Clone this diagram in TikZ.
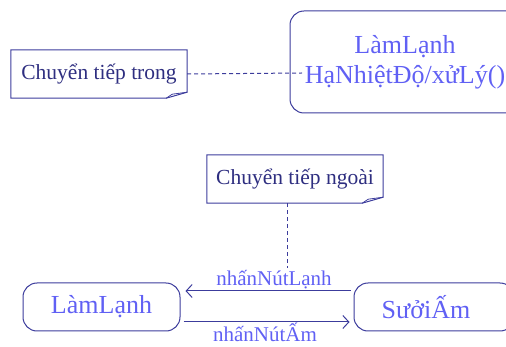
\documentclass[tikz,border=0pt]{standalone}
\usepackage{fontspec}
\setmainfont{Liberation Serif}
\usetikzlibrary{arrows.meta, positioning, calc}
\definecolor{edgeblue}{HTML}{3C3C9C}
\definecolor{textblue}{HTML}{6060F4}
\definecolor{notenavy}{HTML}{2E2E80}
\tikzset{
  statebox/.style={draw=edgeblue, line width=1pt, rounded corners=14pt,
    text=textblue, font=\fontsize{26}{30}\selectfont, align=center, inner sep=0pt},
  notebox/.style={text=notenavy, font=\fontsize{21.5}{24}\selectfont, inner sep=0pt,
    minimum width=176pt, minimum height=48pt},
  trans/.style={draw=edgeblue, line width=1pt, -{Straight Barb[length=6pt,width=13pt]}},
  translab/.style={text=textblue, font=\fontsize{21}{23}\selectfont, inner sep=1pt},
  link/.style={draw=edgeblue, line width=1pt, dash pattern=on 4pt off 3pt}
}
% note outline with folded corner
\newcommand{\dogear}[1]{%
  \draw[edgeblue, line width=1pt] (#1.north west) -- (#1.north east)
    -- ($(#1.south east)+(0,-6)$) -- ($(#1.south east)+(-21,0)$)
    -- (#1.south west) -- cycle;
  \draw[edgeblue, line width=0.8pt] ($(#1.south east)+(-21,0)$)
    -- ($(#1.south east)+(-15,-4)$) -- ($(#1.south east)+(0,-6)$);}

\begin{document}
\begin{tikzpicture}[x=1pt, y=-1pt]
\useasboundingbox (0,0) rectangle (506,347);
% internal transition
\node[notebox] (noteIn) at (99,74) {Chuyển tiếp trong};
\dogear{noteIn}
\node[statebox, minimum width=230pt, minimum height=102pt] (lamBig) at (405,62)
  {LàmLạnh\\HạNhiệtĐộ/xửLý()};
\coordinate (inEnd) at (302,73);
\draw[link] (noteIn.east) -- (inEnd);
% external transition
\node[notebox] (noteOut) at (295,179) {Chuyển tiếp ngoài};
\dogear{noteOut}
\node[statebox, minimum width=157pt, minimum height=48pt] (lam) at (101.5,307) {LàmLạnh};
\node[statebox, minimum width=160pt, minimum height=48pt] (suoi) at (434,307) {SưởiẤm\hspace{16pt}};
\coordinate (outEnd) at (287,268);
\draw[link] ([xshift=-8pt]noteOut.south) -- (outEnd);
% transitions
\draw[trans, shorten <=3pt, shorten >=5pt] ([yshift=16pt]suoi.west) -- ([yshift=16pt]lam.east)
  node[translab, midway, above, xshift=7pt, yshift=1pt] {nhấnNútLạnh};
\draw[trans, shorten <=3pt, shorten >=4pt] ([yshift=-15pt]lam.east) -- ([yshift=-15pt]suoi.west)
  node[translab, midway, below, xshift=-2pt, inner sep=0.5pt] {nhấnNútẤm};
\end{tikzpicture}
\end{document}
